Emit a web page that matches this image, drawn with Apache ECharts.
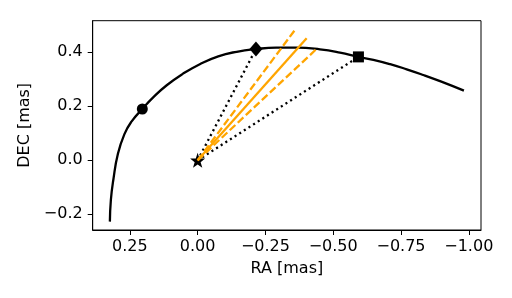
<!DOCTYPE html>
<html><head><meta charset="utf-8">
<script src="https://cdn.jsdelivr.net/npm/echarts@6/dist/echarts.min.js"></script>
<style>html,body{margin:0;padding:0;background:#fff}#c{width:512px;height:298px}</style>
</head><body><div id="c"></div>
<script>
// Track (RA, DEC) in mas
const trackRA  = [0.3236, 0.320, 0.311, 0.294, 0.270, 0.244, 0.204, 0.163, 0.114, 0.055, -0.008, -0.076, -0.144, -0.215, -0.290, -0.365, -0.451, -0.525, -0.593, -0.648, -0.710, -0.771, -0.832, -0.894, -0.982];
const trackDEC = [-0.227, -0.147, -0.073, 0.024, 0.097, 0.143, 0.190, 0.234, 0.278, 0.320, 0.356, 0.385, 0.402, 0.412, 0.417, 0.417, 0.411, 0.399, 0.383, 0.372, 0.356, 0.337, 0.316, 0.293, 0.258];
const circlePt  = [0.204, 0.190];
const diamondPt = [-0.215, 0.412];
const squarePt  = [-0.593, 0.383];
const starPt    = [0, 0];
const orangeSolidEnd = [-0.402, 0.452];
const orangeDashUpperEnd = [-0.359, 0.483];
const orangeDashLowerEnd = [-0.437, 0.411];
const xTicks = [0.25, 0, -0.25, -0.5, -0.75, -1.0];
const yTicks = [-0.2, 0, 0.2, 0.4];

const fmt = (v, d) => (v < 0 ? '\u2212' : '') + Math.abs(v).toFixed(d);
const font = 'DejaVu Sans';
const chart = echarts.init(document.getElementById('c'), null, {renderer: 'canvas'});
const track = trackRA.map((r, i) => [r, trackDEC[i]]);
const LW = 2.3;
const solid = {color: '#000', opacity: 1};
chart.setOption({
  animation: false,
  grid: {left: 92.7, right: 31, top: 20.7, bottom: 68, show: true, borderColor: '#000', borderWidth: 1, backgroundColor: 'transparent'},
  xAxis: {
    type: 'value', inverse: true, min: -1.045, max: 0.387,
    name: 'RA [mas]', nameLocation: 'middle', nameGap: 31,
    nameTextStyle: {fontFamily: font, fontSize: 16, color: '#000'},
    axisLine: {show: true, onZero: false, lineStyle: {color: '#000', width: 1}},
    axisTick: {show: true, length: 5, lineStyle: {color: '#000', width: 1}, customValues: xTicks},
    axisLabel: {fontFamily: font, fontSize: 16, color: '#000', margin: 9, customValues: xTicks, formatter: v => fmt(v, 2)},
    splitLine: {show: false}
  },
  yAxis: {
    type: 'value', min: -0.258, max: 0.517,
    name: 'DEC [mas]', nameLocation: 'middle', nameGap: 60,
    nameTextStyle: {fontFamily: font, fontSize: 16, color: '#000'},
    axisLine: {show: true, onZero: false, lineStyle: {color: '#000', width: 1}},
    axisTick: {show: true, length: 5, lineStyle: {color: '#000', width: 1}, customValues: yTicks},
    axisLabel: {fontFamily: font, fontSize: 16, color: '#000', margin: 10, customValues: yTicks, formatter: v => fmt(v, 1)},
    splitLine: {show: false}
  },
  series: [
    {type: 'line', data: track, smooth: 0.5, symbol: 'none', lineStyle: {color: '#000', width: LW}},
    {type: 'line', data: [starPt, diamondPt], symbol: 'none', lineStyle: {color: '#000', width: LW, type: [2.1, 3.4]}},
    {type: 'line', data: [starPt, squarePt], symbol: 'none', lineStyle: {color: '#000', width: LW, type: [2.1, 3.4]}},
    {type: 'scatter', data: [starPt], symbol: 'path://M0,-10 L2.35,-3.24 L9.51,-3.09 L3.8,1.24 L5.88,8.09 L0,4 L-5.88,8.09 L-3.8,1.24 L-9.51,-3.09 L-2.35,-3.24 Z', symbolSize: 15, itemStyle: solid},
    {type: 'line', data: [starPt, orangeSolidEnd], symbol: 'none', lineStyle: {color: '#FFA500', width: LW}},
    {type: 'line', data: [starPt, orangeDashUpperEnd], symbol: 'none', lineStyle: {color: '#FFA500', width: LW, type: [7.7, 3.3]}},
    {type: 'line', data: [starPt, orangeDashLowerEnd], symbol: 'none', lineStyle: {color: '#FFA500', width: LW, type: [7.7, 3.3]}},
    {type: 'scatter', data: [circlePt], symbol: 'circle', symbolSize: 11, itemStyle: solid},
    {type: 'scatter', data: [diamondPt], symbol: 'diamond', symbolSize: [13, 15], itemStyle: solid},
    {type: 'scatter', data: [squarePt], symbol: 'rect', symbolSize: 11, itemStyle: solid}
  ]
});
</script></body></html>
